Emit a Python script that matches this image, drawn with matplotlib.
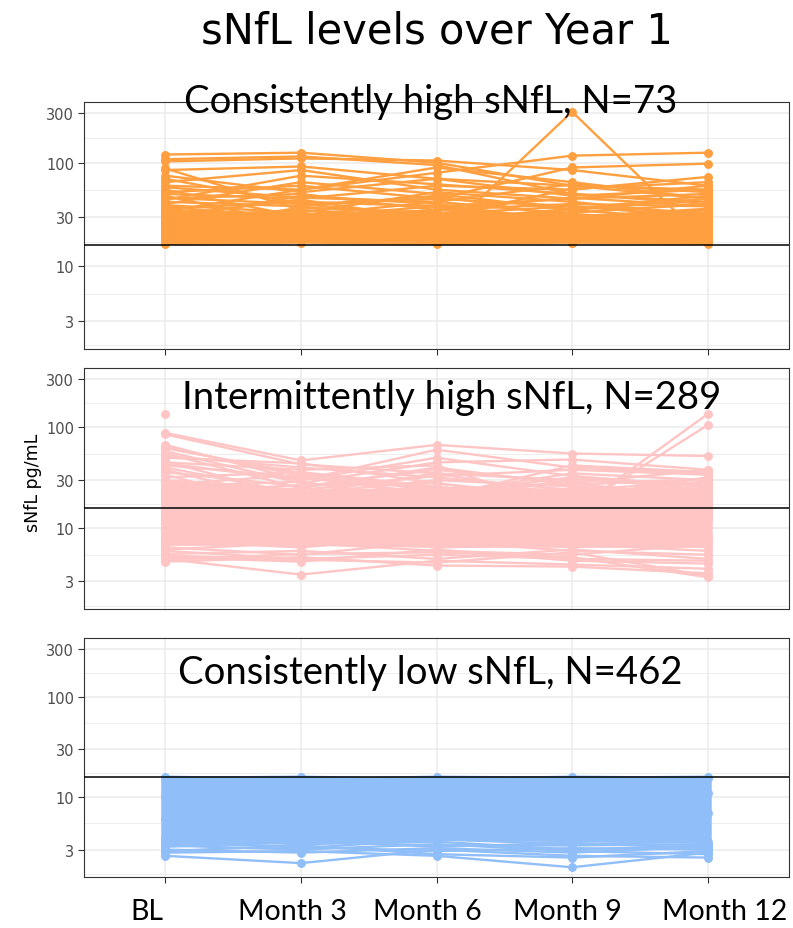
import numpy as np
import matplotlib
matplotlib.use('Agg')
import matplotlib.pyplot as plt
from matplotlib.ticker import NullFormatter

nan = np.nan

visits = ['BL', 'Month 3', 'Month 6', 'Month 9', 'Month 12']
cutoff = 16
y_ticks = [3, 10, 30, 100, 300]

panel_titles = ['Consistently high sNfL, N=73',
                'Intermittently high sNfL, N=289',
                'Consistently low sNfL, N=462']
colors = ['#FF9F40', '#FFC5C5', '#90BEF8']

# individual subjects, sNfL pg/mL at BL, M3, M6, M9, M12
high_rows = [
    [120, 125, 100, 60, 45],
    [108, 115, 95, 50, 40],
    [103, 110, 105, 85, 60],
    [88, 35, 30, 28, 25],
    [85, 92, 70, 60, 55],
    [70, 40, 45, 38, 30],
    [65, 85, 55, 45, 50],
    [60, 55, 80, 117, 125],
    [55, 30, 25, 22, 20],
    [52, 60, 45, 90, 98],
    [50, 45, 60, 55, 73],
    [48, 25, 30, 28, 22],
    [45, 50, 35, 40, 38],
    [42, 38, 48, 30, 35],
    [40, 65, 50, 35, 28],
    [38, 28, 22, 25, 30],
    [36, 42, 38, 45, 60],
    [30, 25, 18, 310, 17],
    [33, 30, 35, 30, 26],
    [32, 20, 28, 35, 45],
    [30, 35, 25, 20, 22],
    [29, 26, 32, 38, 33],
    [28, 48, 40, 27, 24],
    [27, 19, 21, 24, 19],
    [26, 32, 27, 18, 28],
    [25, 22, 30, 33, 40],
    [24, 28, 20, 26, 21],
    [23, 37, 33, 22, 25],
    [22, 18, 24, 20, 18],
    [21, 24, 19, 30, 36],
    [20.5, 30, 38, 28, 23],
    [20, 17.5, 20, 17.5, 19.5],
    [19.5, 21, 26, 21, 27],
    [19, 23, 17, 19, 17.5],
    [18.5, 20, 22, 23, 20],
    [18, 26, 23, 17, 18.5],
    [17.5, 19, 18.5, 21, 24],
    [17, 18, 17.5, 19, 17],
    [16.5, 17, 16.5, 17, 16.5],
    [44, 75, 62, 50, 42],
    [58, 46, 42, 62, 52],
    [75, 52, 70, 48, 55],
    [34, 55, 90, 65, 45],
    [46, 40, 30, 56, 65],
    [39, 33, 52, 42, 31],
    [31, 44, 28, 36, 48],
    [27, 21, 35, 46, 38],
    [24, 31, 42, 32, 27],
    [22, 27, 23, 27, 32],
    [21, 19, 20.5, 22, 21],
]
high_core_lo = [17, 17.5, 17, 17, 17]
high_core_hi = [36, 33, 34, 32, 33]

inter_rows = [
    [135, nan, nan, nan, nan],
    [88, 47, 67, 55, 52],
    [85, 43, 35, 30, 28],
    [67, 30, 60, 40, 35],
    [62, 35, 25, 22, 18],
    [58, 28, 45, 48, 38],
    [55, 25, 20, 15, 14],
    [50, 44, 28, 20, 25],
    [46, 20, 18, 14.5, 135],
    [45, 38, 42, 15, 105],
    [42, 32, 22, 35, 30],
    [40, 22, 30, 26, 22],
    [38, 18, 15, 20, 32],
    [36, 26, 38, 28, 20],
    [34, 15, 20, 30, 26],
    [32, 36, 26, 18, 16],
    [30, 24, 33, 38, 34],
    [28, 20, 24, 22, 28],
    [26, 29, 18, 25, 19],
    [24, 16, 22, 32, 24],
    [22, 27, 28, 18, 21],
    [20, 14, 16, 24, 18],
    [19, 22, 35, 21, 15],
    [18, 12, 14, 16, 23],
    [17, 19, 12, 13, 17],
    [15, 11, 17, 12, 14],
    [14, 17, 13, 19, 12],
    [13, 9, 11, 14, 16],
    [12, 14, 10, 11, 13],
    [11, 10, 15, 9, 10],
    [10, 13, 9, 12, 11],
    [9.5, 8, 11, 10, 8.5],
    [9, 11, 8, 8.5, 9],
    [8.5, 7, 9.5, 7.5, 7.5],
    [8, 9.5, 7, 9, 6.5],
    [7.5, 6.5, 8.5, 6.5, 8],
    [7, 8, 6.5, 7, 6],
    [6.5, 5.5, 7.5, 6, 5.5],
    [6.2, 7.2, 6, 5.5, 7],
    [6, 5.0, 5.5, 5, 4.8],
    [5.6, 6, 5, 6.2, 5],
    [5.2, 4.7, 6.2, 4.8, 4.5],
    [5.0, 3.5, 4.8, 4.4, 4.0],
    [4.7, 5.2, 4.3, 4.2, 3.6],
    [4.9, 5.6, 5.8, 5.2, 3.3],
    [5.4, 4.9, 4.6, 5.8, 3.4],
    [64, 33, 24, 28, 38],
    [52, 40, 32, 24, 29],
    [44, 30, 50, 33, 26],
    [21, 25, 40, 27, 31],
    [27, 34, 20, 42, 36],
    [16, 21, 26, 17, 24],
]
inter_core_lo = [6.8, 6.8, 6.5, 6.5, 6.5]
inter_core_hi = [30, 24, 26, 25, 26]

low_rows = [
    [16, 15, 16, 15.5, 16],
    [15.5, 16, 15, 16, 15.5],
    [2.6, 2.2, 3.0, 2.6, 2.5],
    [2.8, 2.9, 2.6, 2.0, 2.8],
    [2.9, 3.3, 2.7, 2.5, 2.9],
    [3.0, 2.8, 3.1, 2.8, 3.2],
    [3.3, 3.0, 3.4, 2.9, 2.7],
    [3.5, 3.2, 2.9, 3.1, 3.0],
    [3.2, 3.6, 3.3, 3.3, 3.4],
    [3.7, 3.4, 3.6, 3.0, 3.3],
    [3.4, 3.7, 3.2, 3.5, 3.1],
    [3.8, 3.1, 3.8, 3.4, 3.6],
    [10, 8, 12, 9, 11],
    [6, 7.5, 5.5, 6.5, 7],
]
low_core_lo = [3.6, 3.5, 3.7, 3.6, 3.5]
low_core_hi = [16, 16, 16, 16, 16]

W, H = 793, 929


def fx(px):
    return px / W


def fy(py):
    return 1 - py / H


def draw_panel(ax, rows, core_lo, core_hi, color):
    x = np.arange(len(visits))
    ax.fill_between(x, core_lo, core_hi, color=color, lw=0, zorder=2)
    ax.vlines(x, core_lo, core_hi, color=color, lw=5.4, zorder=2)
    for r in rows:
        ax.plot(x, r, '-o', color=color, lw=1.7, ms=5.4, zorder=3)
    ax.axhline(cutoff, color='black', lw=1.1, zorder=4)

    ax.set_yscale('log')
    ax.set_yticks(y_ticks)
    ax.set_yticklabels([str(t) for t in y_ticks])
    major = np.array([1] + y_ticks, dtype=float)
    ax.set_yticks(np.sqrt(major[:-1] * major[1:]), minor=True)
    ax.yaxis.set_minor_formatter(NullFormatter())
    ax.set_xticks(x)
    ax.set_xticklabels([])

    # limits last, set_yticks would widen them
    ax.set_ylim(1.6, 385)
    ax.set_xlim(-0.6, len(visits) - 0.4)

    ax.grid(which='major', color='#EBEBEB', lw=1.1, zorder=0)
    ax.grid(which='minor', axis='y', color='#EBEBEB', lw=0.6, zorder=0)
    ax.set_axisbelow(True)
    ax.tick_params(which='minor', length=0)
    ax.tick_params(axis='y', which='major', length=4, width=0.8,
                   color='#333333', labelcolor='#4D4D4D', labelsize=10.5,
                   pad=3)
    ax.tick_params(axis='x', which='major', length=4, width=0.8,
                   color='#333333')
    for s in ax.spines.values():
        s.set_color('#333333')
        s.set_linewidth(0.8)


fig = plt.figure(figsize=(W / 100, H / 100), dpi=100)

boxes = [(103, 350), (369, 610), (639, 878)]
all_rows = [high_rows, inter_rows, low_rows]
all_lo = [high_core_lo, inter_core_lo, low_core_lo]
all_hi = [high_core_hi, inter_core_hi, low_core_hi]

axes = []
for i, (top, bot) in enumerate(boxes):
    ax = fig.add_axes([fx(84), fy(bot), fx(789) - fx(84), (bot - top) / H])
    draw_panel(ax, all_rows[i], all_lo[i], all_hi[i], colors[i])
    axes.append(ax)

axes[1].tick_params(axis='x', length=0)

# titles
fig.text(fx(437), fy(43), 'sNfL levels over Year 1', fontsize=30,
         family='DejaVu Sans', ha='center', va='baseline')

title_pos = [(431, 113), (452, 409), (430, 684)]
for (px, py), t in zip(title_pos, panel_titles):
    fig.text(fx(px), fy(py), t, fontsize=27.5, family='Lato',
             ha='center', va='baseline')

label_x = [147, 292, 427, 567, 725]
for px, lab in zip(label_x, visits):
    fig.text(fx(px), fy(920), lab, fontsize=20.5, family='Lato',
             ha='center', va='baseline')

fig.text(fx(33), fy(483), 'sNfL pg/mL', fontsize=12.5, rotation=90,
         ha='center', va='center')

fig.savefig('out.png', dpi=100)
